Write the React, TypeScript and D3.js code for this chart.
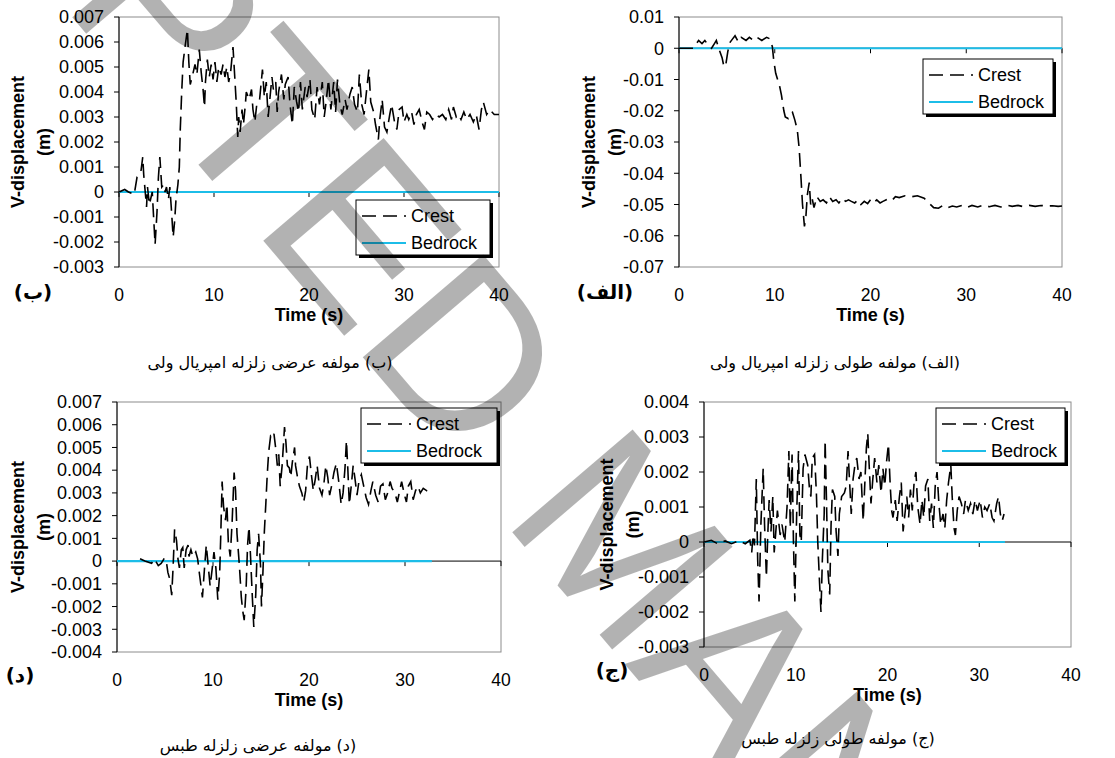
import React from "react";
import * as d3 from "d3";

// (ب) transverse component, Imperial Valley
const timeB = [0, 0.6, 1.0, 1.6, 1.9, 2.3, 2.5, 2.6, 2.9, 3.0, 3.2, 3.5, 3.8, 4.0, 4.15, 4.3, 4.5, 4.7, 4.85, 5.0, 5.2, 5.35, 5.5, 5.7, 5.85, 6.0, 6.2, 6.35, 6.45, 6.6, 6.75, 6.95, 7.2, 7.35, 7.5, 7.7, 8.0, 8.2, 8.45, 8.65, 8.85, 9.0, 9.1, 9.3, 9.5, 9.7, 9.9, 10.1, 10.3, 10.5, 10.75, 10.95, 11.15, 11.35, 11.55, 11.75, 12.0, 12.2, 12.35, 12.5, 12.6, 12.75, 12.95, 13.1, 13.3, 13.4, 13.7, 13.95, 14.1, 14.3, 14.5, 14.8, 15.1, 15.3, 15.5, 15.7, 15.9, 16.1, 16.25, 16.5, 16.65, 16.8, 17.1, 17.35, 17.5, 17.8, 18.0, 18.25, 18.45, 18.7, 18.9, 19.1, 19.3, 19.6, 19.8, 20.1, 20.3, 20.6, 20.85, 21.1, 21.4, 21.6, 21.8, 22.05, 22.3, 22.6, 22.8, 23.0, 23.25, 23.5, 23.8, 24.0, 24.3, 24.55, 24.8, 25.1, 25.3, 25.55, 25.8, 26.1, 26.3, 26.5, 26.8, 27.0, 27.3, 27.45, 27.7, 27.95, 28.2, 28.5, 28.7, 29.0, 29.25, 29.5, 29.8, 30.0, 30.3, 30.5, 30.8, 31.05, 31.3, 31.6, 31.9, 32.15, 32.4, 32.7, 33.0, 33.35, 33.7, 34.05, 34.4, 34.7, 35.0, 35.2, 35.5, 35.75, 36.0, 36.3, 36.6, 36.95, 37.3, 37.6, 37.9, 38.15, 38.35, 38.7, 39.0, 39.5, 40.0];
const crestB = [0, 0.0001, 0, -0.0001, 0.0006, 0.0008, 0.0014, 0.0007, -0.0006, 0.0002, -0.0005, 0, -0.0021, -0.0008, 0.0006, 0.0014, 0.0002, 0.0003, 0, 0.0002, -0.0003, 0.0002, -0.0006, -0.0018, -0.0012, -0.0003, 0.0003, 0.001, 0.0025, 0.004, 0.0052, 0.0058, 0.0065, 0.0052, 0.0043, 0.0046, 0.0051, 0.0047, 0.0057, 0.0048, 0.0041, 0.0034, 0.0044, 0.0053, 0.0046, 0.0051, 0.0045, 0.0052, 0.0044, 0.005, 0.0047, 0.0051, 0.0046, 0.005, 0.0044, 0.0048, 0.0058, 0.0045, 0.0035, 0.0022, 0.003, 0.0024, 0.0033, 0.0027, 0.0035, 0.004, 0.0037, 0.0041, 0.0033, 0.0028, 0.0035, 0.0037, 0.0049, 0.0038, 0.0044, 0.003, 0.0038, 0.0046, 0.0041, 0.0044, 0.0032, 0.004, 0.0047, 0.0037, 0.0043, 0.0046, 0.0035, 0.0027, 0.0042, 0.0036, 0.0032, 0.0044, 0.0033, 0.0042, 0.0038, 0.0045, 0.0033, 0.0029, 0.0042, 0.0035, 0.0044, 0.003, 0.0036, 0.0045, 0.0033, 0.0044, 0.0032, 0.0045, 0.0035, 0.0031, 0.0037, 0.0033, 0.0039, 0.0042, 0.0035, 0.0032, 0.0047, 0.0035, 0.0031, 0.0042, 0.0049, 0.0036, 0.0032, 0.0027, 0.0021, 0.0029, 0.0037, 0.0026, 0.0024, 0.0031, 0.0035, 0.0028, 0.0025, 0.0033, 0.0034, 0.0028, 0.0031, 0.0029, 0.0032, 0.0027, 0.0031, 0.0033, 0.0028, 0.0025, 0.0032, 0.0031, 0.0029, 0.0031, 0.003, 0.0031, 0.0029, 0.0033, 0.0029, 0.0034, 0.003, 0.0031, 0.0029, 0.0032, 0.0029, 0.0031, 0.0028, 0.0031, 0.0025, 0.0033, 0.0036, 0.0031, 0.0033, 0.0031, 0.0031];

// (الف) longitudinal component, Imperial Valley
const timeA = [0, 1.5, 1.7, 2.05, 2.4, 2.7, 3.05, 3.4, 3.7, 3.9, 4.2, 4.5, 4.7, 4.9, 5.1, 5.35, 5.6, 5.85, 6.2, 6.5, 7.0, 7.35, 7.75, 8.15, 8.65, 9.15, 9.5, 9.75, 9.9, 10.1, 10.5, 10.7, 10.95, 11.1, 11.4, 11.6, 11.85, 12.1, 12.35, 12.55, 12.75, 12.9, 13.1, 13.25, 13.4, 13.6, 13.75, 13.9, 14.1, 14.4, 14.75, 15.05, 15.4, 15.7, 16.05, 16.4, 16.7, 17.05, 17.4, 17.7, 18.0, 18.35, 18.7, 19.0, 19.35, 19.7, 20.0, 20.3, 20.65, 21.0, 21.3, 21.65, 22.0, 22.3, 22.6, 23.0, 23.6, 24.3, 24.9, 25.6, 26.1, 26.6, 27.1, 27.6, 28.1, 28.55, 29.0, 29.55, 30.0, 30.6, 31.2, 31.8, 32.4, 33.0, 33.6, 34.2, 34.8, 35.4, 36.0, 36.6, 37.2, 37.8, 38.4, 39.0, 39.6, 40.0];
const crestA = [0, 0, 0.001, 0.0025, 0.0015, 0.0025, 0.001, 0, 0.0015, 0.0025, -0.0005, -0.003, -0.006, -0.005, -0.001, 0.002, 0.003, 0.004, 0.002, 0.0035, 0.0025, 0.0035, 0.0025, 0.0035, 0.0025, 0.0035, 0.003, 0.0005, -0.004, -0.008, -0.012, -0.015, -0.02, -0.022, -0.0225, -0.021, -0.0205, -0.023, -0.026, -0.032, -0.042, -0.05, -0.057, -0.054, -0.047, -0.043, -0.05, -0.048, -0.051, -0.0475, -0.049, -0.0485, -0.0495, -0.0475, -0.049, -0.0485, -0.0495, -0.048, -0.049, -0.0485, -0.049, -0.0495, -0.0485, -0.05, -0.049, -0.0497, -0.0485, -0.0495, -0.0485, -0.0495, -0.049, -0.0485, -0.048, -0.0485, -0.0475, -0.0478, -0.0472, -0.0475, -0.0472, -0.048, -0.0495, -0.051, -0.0512, -0.0502, -0.051, -0.0505, -0.0508, -0.0503, -0.051, -0.0503, -0.0508, -0.0502, -0.0507, -0.0503, -0.0508, -0.0502, -0.0506, -0.0503, -0.0507, -0.0503, -0.0506, -0.0503, -0.0505, -0.0504, -0.0506, -0.0505];

// (د) transverse component, Tabas
const timeD = [2.4, 2.9, 3.6, 3.9, 4.3, 4.6, 4.9, 5.1, 5.3, 5.5, 5.7, 5.85, 6.0, 6.2, 6.35, 6.5, 6.7, 6.85, 7.0, 7.2, 7.4, 7.5, 7.7, 7.9, 8.2, 8.4, 8.6, 8.9, 9.1, 9.3, 9.5, 9.7, 9.9, 10.1, 10.3, 10.5, 10.7, 10.8, 10.95, 11.1, 11.3, 11.45, 11.6, 11.8, 12.0, 12.2, 12.35, 12.5, 12.75, 12.95, 13.1, 13.25, 13.45, 13.6, 13.75, 13.9, 14.1, 14.25, 14.45, 14.6, 14.75, 14.95, 15.05, 15.2, 15.35, 15.5, 15.65, 15.8, 16.0, 16.2, 16.35, 16.55, 16.7, 16.85, 17.0, 17.2, 17.45, 17.6, 17.75, 17.95, 18.1, 18.25, 18.5, 18.6, 18.8, 19.0, 19.25, 19.45, 19.65, 19.85, 20.05, 20.25, 20.45, 20.65, 20.85, 21.1, 21.35, 21.55, 21.75, 21.95, 22.15, 22.4, 22.6, 22.85, 23.1, 23.35, 23.55, 23.75, 23.9, 24.05, 24.2, 24.4, 24.6, 24.8, 25.0, 25.2, 25.45, 25.7, 25.95, 26.2, 26.45, 26.65, 26.95, 27.2, 27.45, 27.7, 27.95, 28.2, 28.45, 28.65, 28.95, 29.2, 29.45, 29.65, 29.95, 30.15, 30.35, 30.6, 30.85, 31.1, 31.35, 31.6, 31.9, 32.25, 32.7];
const crestD = [0.0001, 0, -0.0001, 0.0001, -0.0002, -0.0001, 0.0001, 0.0001, -0.0005, -0.0008, -0.0015, -0.0002, 0.0014, 0.0009, 0.0001, -0.0003, 0.0005, 0.0006, -0.0003, 0.0005, 0.0007, 0.0002, 0.0005, 0.0002, 0.0004, 0.0001, -0.0006, -0.0016, -0.0004, 0.0007, -0.0002, -0.0011, -0.0004, 0.0004, -0.0003, -0.0017, -0.0005, 0.001, 0.0035, 0.0024, 0.0018, 0.0025, 0.0008, 0.0002, 0.0018, 0.0039, 0.0031, 0.0012, -0.0002, -0.0016, -0.0022, -0.0026, -0.0012, 0.0007, 0.0015, 0.0003, -0.0016, -0.0029, -0.0015, 0.0005, 0.0012, -0.0002, -0.002, -0.0005, 0.0013, 0.0025, 0.0038, 0.0048, 0.0055, 0.0054, 0.0056, 0.0049, 0.0042, 0.0047, 0.0033, 0.0042, 0.0059, 0.0052, 0.0042, 0.0041, 0.0037, 0.0043, 0.005, 0.0042, 0.0037, 0.0033, 0.003, 0.0026, 0.0031, 0.0043, 0.0046, 0.0038, 0.0031, 0.0036, 0.0042, 0.0032, 0.0029, 0.0034, 0.0042, 0.0037, 0.0029, 0.0034, 0.0039, 0.0043, 0.0035, 0.0025, 0.003, 0.0041, 0.0053, 0.004, 0.0025, 0.0033, 0.0042, 0.0036, 0.0029, 0.0035, 0.0038, 0.0033, 0.0028, 0.0025, 0.0031, 0.0035, 0.0029, 0.0026, 0.0033, 0.0034, 0.0027, 0.003, 0.0035, 0.0032, 0.003, 0.0026, 0.0031, 0.0035, 0.0029, 0.0026, 0.0033, 0.0035, 0.0027, 0.0031, 0.0033, 0.003, 0.0032, 0.0031, 0.003];

// (ج) longitudinal component, Tabas
const timeC = [0, 0.8, 1.5, 2.3, 3.0, 3.8, 4.5, 5.0, 5.2, 5.35, 5.5, 5.7, 5.85, 6.0, 6.2, 6.45, 6.6, 6.8, 6.95, 7.1, 7.3, 7.5, 7.65, 7.8, 8.0, 8.3, 8.5, 8.8, 9.05, 9.25, 9.4, 9.6, 9.75, 9.9, 10.1, 10.3, 10.45, 10.6, 10.8, 11.0, 11.3, 11.5, 11.65, 11.8, 12.05, 12.25, 12.4, 12.6, 12.75, 12.9, 13.1, 13.2, 13.35, 13.5, 13.7, 13.85, 14.0, 14.25, 14.4, 14.6, 14.75, 15.0, 15.3, 15.5, 15.7, 15.85, 16.05, 16.25, 16.45, 16.65, 16.9, 17.1, 17.35, 17.5, 17.7, 17.85, 18.0, 18.2, 18.4, 18.6, 18.85, 19.05, 19.3, 19.5, 19.7, 19.9, 20.1, 20.3, 20.45, 20.6, 20.85, 21.05, 21.3, 21.5, 21.7, 21.9, 22.1, 22.3, 22.5, 22.7, 22.9, 23.1, 23.3, 23.55, 23.75, 23.95, 24.15, 24.4, 24.6, 24.8, 25.0, 25.2, 25.4, 25.6, 25.8, 26.05, 26.25, 26.45, 26.65, 26.9, 27.05, 27.25, 27.4, 27.6, 27.8, 28.05, 28.3, 28.5, 28.8, 29.05, 29.3, 29.55, 29.8, 30.1, 30.35, 30.6, 30.85, 31.15, 31.4, 31.6, 31.9, 32.1, 32.3, 32.5, 32.7];
const crestC = [0, 0.00005, -0.00005, 0.00003, -0.00005, 0.00004, -0.00005, 0.00005, -0.0003, 0.0002, -0.0001, 0.0018, -0.0005, -0.0017, 0.0005, 0.0021, 0.0005, -0.001, 0.0002, 0.0012, 0.0003, 0.0013, -0.0003, 0.0002, 0.0009, 0.0002, 0.0005, 0, 0.001, 0.0026, 0.0004, 0.0025, 0, -0.0017, 0.0008, 0.0026, 0.0002, 0, 0.0021, 0.0025, 0.0022, 0.0015, 0.0013, 0.0024, 0.0025, 0.0014, 0, -0.0012, -0.002, -0.0005, 0.0008, 0.0029, 0.0012, -0.0008, -0.0015, 0.0005, 0.0015, 0.0013, 0.0003, -0.0004, 0.0008, 0.0013, 0.0014, 0.0016, 0.0026, 0.0018, 0.0008, 0.0018, 0.0022, 0.0024, 0.0018, 0.002, 0.0006, 0.0015, 0.0027, 0.0031, 0.0022, 0.0011, 0.0018, 0.0024, 0.0017, 0.0022, 0.0014, 0.0021, 0.0016, 0.0023, 0.0028, 0.0016, 0.0009, 0.0007, 0.0012, 0.0006, 0.0013, 0.0017, 0.0003, 0.0008, 0.0013, 0.0007, 0.0015, 0.0009, 0.0017, 0.002, 0.001, 0.0005, 0.0012, 0.0007, 0.0016, 0.0018, 0.0006, 0.0011, 0.0004, 0.0016, 0.002, 0.0011, 0.0005, 0.0008, 0.0004, 0.0012, 0.0017, 0.0022, 0.0013, 0.0004, 0.0002, 0.0009, 0.0013, 0.0011, 0.0008, 0.0012, 0.0009, 0.0011, 0.0008, 0.0012, 0.0009, 0.0012, 0.0007, 0.001, 0.0009, 0.0011, 0.0007, 0.0006, 0.0011, 0.0013, 0.0008, 0.0006, 0.0008];

// bedrock: flat at zero over the record length
const bedrockImperial = [0, 40];
const bedrockTabas = [0, 32.8];

const timeTicks = [0, 10, 20, 30, 40];
const ticksB = [-0.003, -0.002, -0.001, 0, 0.001, 0.002, 0.003, 0.004, 0.005, 0.006, 0.007];
const ticksA = [-0.07, -0.06, -0.05, -0.04, -0.03, -0.02, -0.01, 0, 0.01];
const ticksD = [-0.004, -0.003, -0.002, -0.001, 0, 0.001, 0.002, 0.003, 0.004, 0.005, 0.006, 0.007];
const ticksC = [-0.003, -0.002, -0.001, 0, 0.001, 0.002, 0.003, 0.004];

const seriesNames = ["Crest", "Bedrock"];

const FONT = "Arial, 'Liberation Sans', sans-serif";
const CYAN = "#1CBDE8";
const DASH = "14,7";

function Panel(p) {
  const x = d3.scaleLinear().domain([0, 40]).range([p.left, p.right]);
  const y = d3.scaleLinear().domain([p.ticks[0], p.ticks[p.ticks.length - 1]]).range([p.bottom, p.top]);
  const crestLine = d3
    .line()
    .x((d, i) => x(p.time[i]))
    .y((d) => y(d));
  const fmt = (v) => (v === 0 ? "0" : v.toFixed(p.dec));
  const yc = (p.top + p.bottom) / 2;
  const xc = (p.left + p.right) / 2;
  const lg = p.legend;
  return (
    <g>
      <rect x={p.left} y={p.top} width={p.right - p.left} height={p.bottom - p.top} fill="none" stroke="#8c8c8c" />
      <line x1={p.left} x2={p.left} y1={p.top} y2={p.bottom} stroke="#000" />
      {p.ticks.map((t) => (
        <g key={t}>
          <line x1={p.left - 5} x2={p.left} y1={y(t)} y2={y(t)} stroke="#000" />
          <text x={p.left - 15} y={y(t)} dy="0.35em" textAnchor="end" fontSize={18} fontFamily={FONT}>
            {fmt(t)}
          </text>
        </g>
      ))}
      <line x1={p.left} x2={p.right} y1={y(0)} y2={y(0)} stroke="#000" />
      {timeTicks.map((t) => (
        <g key={t}>
          <line x1={x(t)} x2={x(t)} y1={y(0)} y2={y(0) + 5} stroke="#000" />
          <text x={x(t)} y={p.bottom + 27.5} dy="0.35em" textAnchor="middle" fontSize={17.5} fontFamily={FONT}>
            {t}
          </text>
        </g>
      ))}
      <path
        d={d3.line()([[x(p.bedrock[0]), y(0)], [x(p.bedrock[1]), y(0)]])}
        stroke={CYAN}
        strokeWidth={2.2}
        fill="none"
      />
      <path d={crestLine(p.crest)} fill="none" stroke="#000" strokeWidth={1.6} strokeDasharray={DASH} />
      <text x={xc} y={p.bottom + 48} dy="0.35em" textAnchor="middle" fontSize={18} fontWeight="bold" fontFamily={FONT}>
        Time (s)
      </text>
      <text transform={`translate(${p.left - p.titleOff},${yc}) rotate(-90)`} dy="0.35em" textAnchor="middle" fontSize={18} fontWeight="bold" fontFamily={FONT}>
        V-displacement
      </text>
      <text transform={`translate(${p.left - p.titleOff + 26},${yc}) rotate(-90)`} dy="0.35em" textAnchor="middle" fontSize={18} fontWeight="bold" fontFamily={FONT}>
        (m)
      </text>
      <rect x={lg[0] + 3} y={lg[1] + 3} width={lg[2]} height={55} fill="#000" />
      <rect x={lg[0]} y={lg[1]} width={lg[2]} height={55} fill="#fff" stroke="#000" />
      <line x1={lg[0] + 6} x2={lg[0] + 50} y1={lg[1] + 16} y2={lg[1] + 16} stroke="#000" strokeWidth={1.6} strokeDasharray={DASH} />
      <line x1={lg[0] + 6} x2={lg[0] + 50} y1={lg[1] + 43} y2={lg[1] + 43} stroke={CYAN} strokeWidth={2.2} />
      <text x={lg[0] + 55} y={lg[1] + 16} dy="0.35em" fontSize={18} fontFamily={FONT}>
        {seriesNames[0]}
      </text>
      <text x={lg[0] + 55} y={lg[1] + 43} dy="0.35em" fontSize={18} fontFamily={FONT}>
        {seriesNames[1]}
      </text>
      <text x={p.tag[0]} y={p.tag[1]} dy="0.35em" textAnchor="middle" fontSize={20} fontWeight="bold" fontFamily="'DejaVu Sans', sans-serif">
        {p.tagText}
      </text>
      <text x={p.cap[0]} y={p.cap[1]} dy="0.35em" textAnchor="middle" direction="rtl" fontSize={16} fontFamily="'DejaVu Sans', serif">
        {p.capText}
      </text>
    </g>
  );
}

export default function App() {
  return (
    <svg width={1115} height={758} style={{ position: "absolute", left: 0, top: 0, background: "#fff" }}>
      <rect width={1115} height={758} fill="#fff" />
      <Panel left={119} right={499} top={17} bottom={267} ticks={ticksB} dec={3} time={timeB} crest={crestB} bedrock={bedrockImperial}
        legend={[356, 200, 134]} titleOff={101} tag={[33, 292]} tagText="(ب)" cap={[270, 362]} capText="(ب) مولفه عرضی زلزله امپریال ولی" />
      <Panel left={679} right={1062} top={17} bottom={267} ticks={ticksA} dec={2} time={timeA} crest={crestA} bedrock={bedrockImperial}
        legend={[923, 59, 130]} titleOff={90} tag={[605, 292]} tagText="(الف)" cap={[835, 362]} capText="(الف) مولفه طولی زلزله امپریال ولی" />
      <Panel left={117} right={501} top={402} bottom={652} ticks={ticksD} dec={3} time={timeD} crest={crestD} bedrock={bedrockTabas}
        legend={[361, 408, 136]} titleOff={99} tag={[20, 675]} tagText="(د)" cap={[258, 745]} capText="(د) مولفه عرضی زلزله طبس" />
      <Panel left={704} right={1071} top={402} bottom={647} ticks={ticksC} dec={3} time={timeC} crest={crestC} bedrock={bedrockTabas}
        legend={[936, 408, 129]} titleOff={97} tag={[612, 670]} tagText="(ج)" cap={[838, 738]} capText="(ج) مولفه طولی زلزله طبس" />
      <text transform="translate(-355,-483) rotate(49.5)" fontSize={230} fontFamily={FONT} fill="#000" fillOpacity={0.3}>
        ACCEPTED MANUSCRIPT
      </text>
    </svg>
  );
}
